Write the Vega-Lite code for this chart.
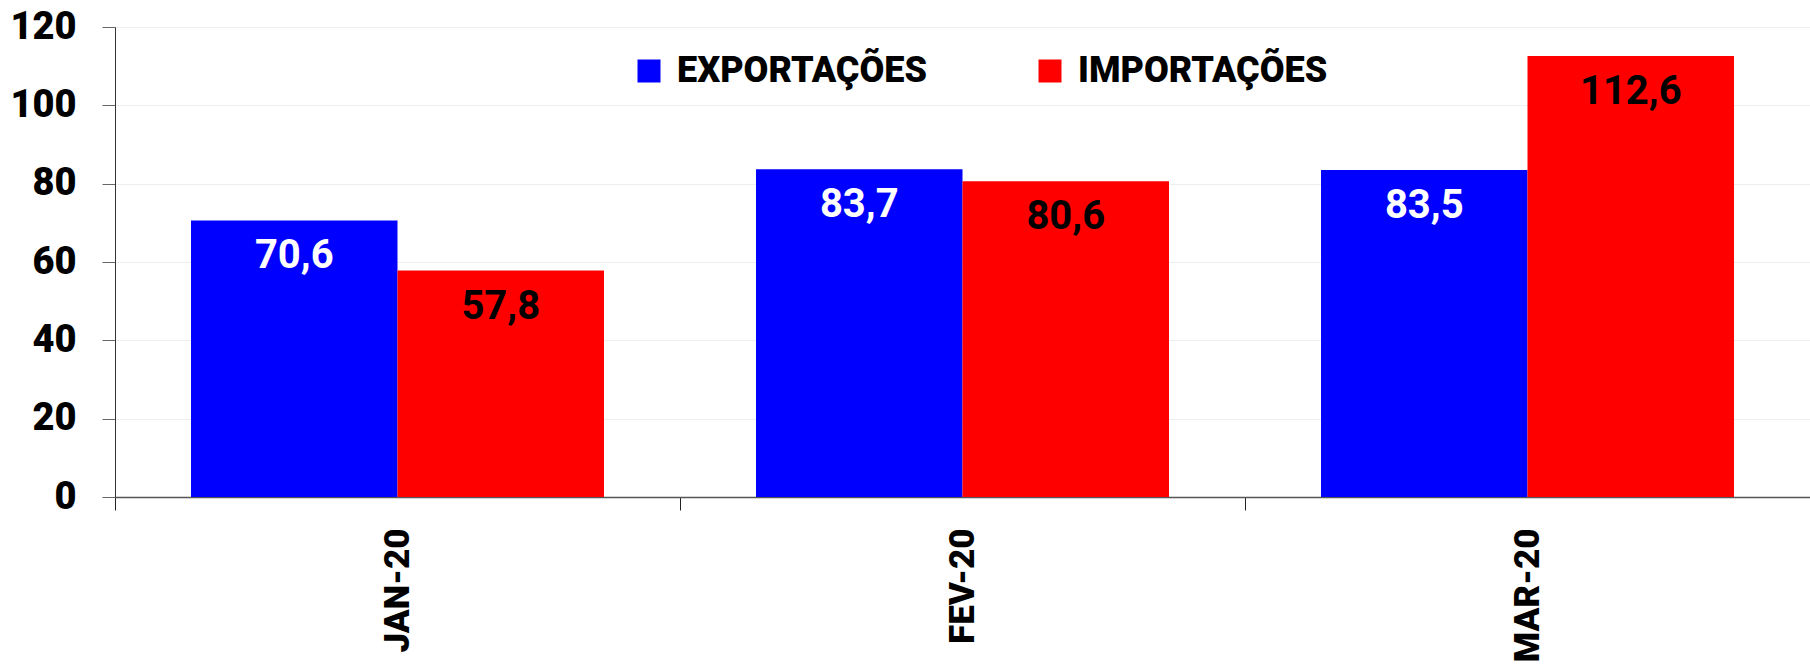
{
  "$schema": "https://vega.github.io/schema/vega-lite/v6.json",
  "width": 1695,
  "height": 470,
  "autosize": {"type": "none"},
  "padding": {"left": 115, "top": 27, "right": 0, "bottom": 168},
  "background": "white",
  "config": {
    "view": {"stroke": null},
    "font": "Roboto",
    "locale": {"number": {"decimal": ",", "thousands": ".", "grouping": [3], "currency": ["R$", ""]}}
  },
  "data": {
    "values": [
      {"mes": "JAN-20", "serie": "EXPORTAÇÕES", "valor": 70.6},
      {"mes": "JAN-20", "serie": "IMPORTAÇÕES", "valor": 57.8},
      {"mes": "FEV-20", "serie": "EXPORTAÇÕES", "valor": 83.7},
      {"mes": "FEV-20", "serie": "IMPORTAÇÕES", "valor": 80.6},
      {"mes": "MAR-20", "serie": "EXPORTAÇÕES", "valor": 83.5},
      {"mes": "MAR-20", "serie": "IMPORTAÇÕES", "valor": 112.6}
    ]
  },
  "encoding": {
    "x": {
      "field": "mes", "type": "nominal", "sort": ["JAN-20", "FEV-20", "MAR-20"],
      "scale": {"paddingInner": 0, "paddingOuter": 0},
      "axis": {
        "title": null, "labelAngle": -90, "labelFontSize": 35, "labelFontWeight": 900,
        "labelColor": "black", "labelPadding": 18, "tickBand": "extent", "tickSize": 13,
        "tickColor": "#222", "domainColor": "#555", "domainWidth": 1.5, "grid": false
      }
    },
    "xOffset": {
      "field": "serie", "type": "nominal",
      "scale": {"paddingInner": 0, "paddingOuter": 0.368}
    },
    "y": {
      "field": "valor", "type": "quantitative",
      "scale": {"domain": [0, 120], "nice": false},
      "axis": {
        "title": null, "values": [0, 20, 40, 60, 80, 100, 120], "labelFontSize": 38,
        "labelFontWeight": 900, "labelColor": "black", "labelPadding": 26, "tickSize": 13,
        "tickColor": "#666", "domainColor": "#333", "grid": true, "gridColor": "#eeeeee",
        "domain": true
      }
    }
  },
  "layer": [
    {
      "mark": {"type": "bar"},
      "encoding": {
        "color": {
          "field": "serie", "type": "nominal",
          "scale": {"domain": ["EXPORTAÇÕES", "IMPORTAÇÕES"], "range": ["#0000FF", "#FF0000"]},
          "legend": {
            "title": null, "orient": "none", "direction": "horizontal",
            "legendX": 516, "legendY": 26, "symbolType": "square", "symbolSize": 529,
            "symbolStrokeWidth": 0, "labelFontSize": 36, "labelFontWeight": 900,
            "labelColor": "black", "labelOffset": 10, "columnPadding": 105, "labelLimit": 400
          }
        }
      }
    },
    {
      "mark": {"type": "text", "baseline": "middle", "dy": 36, "fontSize": 40, "fontWeight": "bold"},
      "encoding": {
        "text": {"field": "valor", "type": "quantitative", "format": ".1f"},
        "color": {"condition": {"test": "datum.serie === 'EXPORTAÇÕES'", "value": "white"}, "value": "black"}
      }
    }
  ]
}
